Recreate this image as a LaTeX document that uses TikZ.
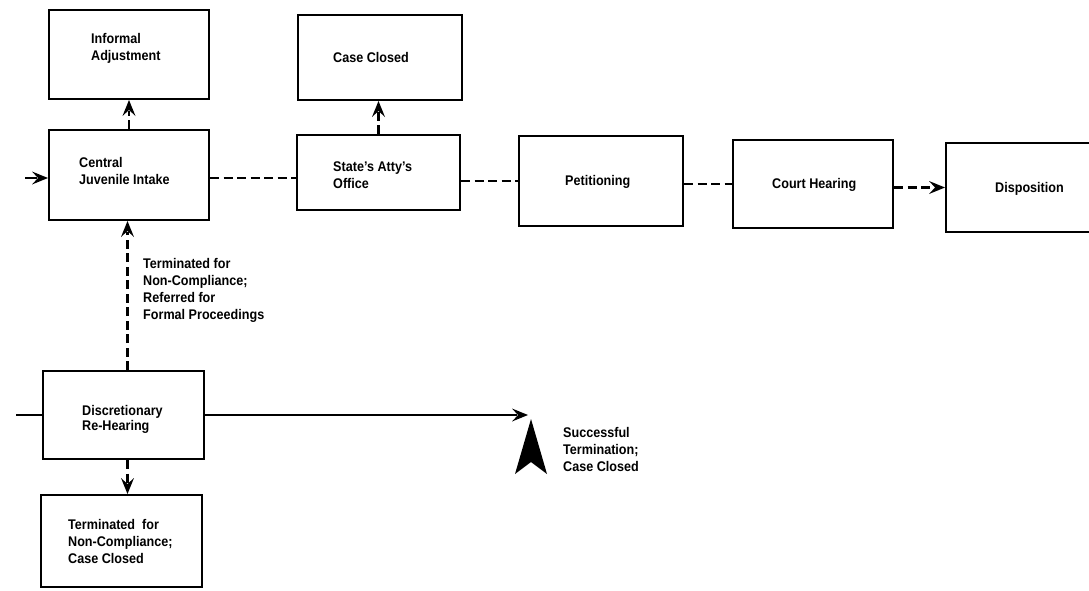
\documentclass[tikz,border=0pt]{standalone}
\usepackage{fontspec}
\setmainfont{Liberation Sans}[FakeStretch=0.9]
\usetikzlibrary{calc}
\newcommand\headat[2]{\fill[shift={(#1)}, rotate=#2] (0,0) -- (-16,6.5) -- (-10,0) -- (-16,-6.5) -- cycle;}
\begin{document}
\begin{tikzpicture}[x=1pt,y=1pt,
  box/.style={draw, line width=2pt, rectangle, inner sep=0pt},
  txt/.style={anchor=north west, inner sep=0pt, align=left, font=\fontsize{14}{17}\selectfont\bfseries},
  flow/.style={line width=2pt},
  dsh/.style={line width=2.2pt, dash pattern=on 9pt off 4.5pt}
]
\useasboundingbox (0,0) rectangle (1089,-590);
% boxes
\node[box, minimum width=160pt, minimum height=89pt] (ia) at (129,-54.5) {};
\node[box, minimum width=164pt, minimum height=85pt] (cc) at (380,-57.5) {};
\node[box, minimum width=160pt, minimum height=90pt] (ci) at (129,-175) {};
\node[box, minimum width=163pt, minimum height=75pt] (sa) at (378.5,-172.5) {};
\node[box, minimum width=164pt, minimum height=90pt] (pt) at (601,-181) {};
\node[box, minimum width=160pt, minimum height=88pt] (ch) at (813,-184) {};
\node[box, minimum width=147pt, minimum height=89pt] (dp) at (1019.5,-187.5) {};
\node[box, minimum width=161pt, minimum height=88pt] (dr) at (123.5,-415) {};
\node[box, minimum width=161pt, minimum height=92pt] (tc) at (121.5,-541) {};
% texts
\node[txt] (tia) at (91,-33) {Informal\\Adjustment};
\node[txt] (tcc) at (333,-52) {Case Closed};
\node[txt] (tci) at (79,-157) {Central\\Juvenile Intake};
\node[txt] (tsa) at (333,-162) {State's Atty's\\Office};
\node[txt] (tpt) at (565,-175) {Petitioning};
\node[txt] (tch) at (772,-178) {Court Hearing};
\node[txt] (tdp) at (995,-182) {Disposition};
\node[txt, font=\fontsize{14}{15}\selectfont\bfseries] (tdr) at (82,-405) {Discretionary\\Re-Hearing};
\node[txt] (ttc) at (68,-519) {Terminated\ \ for\\Non-Compliance;\\Case Closed};
\node[txt] (tlab) at (143,-258) {Terminated for\\Non-Compliance;\\Referred for\\Formal Proceedings};
\node[txt] (tst) at (563,-427) {Successful\\Termination;\\Case Closed};
% free ends, tip points and line ends
\coordinate (in1) at (25,-178);
\coordinate (in2) at (16,-415);
\coordinate (st) at (528,-415);
\coordinate (a1) at ($(ci.east)+(0,-3)$);
\coordinate (a2) at ([xshift=4pt]dr.north);
\coordinate (a3) at ([xshift=4pt]dr.south);
\coordinate (h1) at (in1 -| ci.west);
\coordinate (h2) at (ia.south);
\coordinate (h3) at (sa.north |- cc.south);
\coordinate (h4) at (dp.west);
\coordinate (h5) at (a2 |- ci.south);
\coordinate (h6) at (a3 |- tc.north);
\coordinate (e1) at ($(h1)+(-11,0)$);
\coordinate (e2) at ($(h2)+(0,-11)$);
\coordinate (e3) at ($(h3)+(0,-11)$);
\coordinate (e4) at ($(h4)+(-11,0)$);
\coordinate (e5) at ($(h5)+(0,-11)$);
\coordinate (e6) at ($(h6)+(0,11)$);
\coordinate (e7) at ($(st)+(-11,0)$);
% connectors
\draw[flow] (in1) -- (e1); \headat{h1}{0}
\draw[dsh] (ci.north) -- (e2); \headat{h2}{90}
\draw[dsh] (a1) -- (a1 -| sa.west);
\draw[dsh] (sa.north) -- (e3); \headat{h3}{90}
\draw[dsh] (sa.east |- pt.west) -- (pt.west);
\draw[dsh] (pt.east |- ch.west) -- (ch.west);
\draw[dsh] (ch.east |- dp.west) -- (e4); \headat{h4}{0}
\draw[dsh] (a2) -- (e5); \headat{h5}{90}
\draw[dsh] (a3) -- (e6); \headat{h6}{-90}
\draw[flow] (in2) -- (dr.west);
\draw[flow] (dr.east) -- (e7); \headat{st}{0}
% successful termination marker
\fill (531,-419) -- (547,-474) -- (531,-462) -- (515,-474) -- cycle;
\end{tikzpicture}
\end{document}
